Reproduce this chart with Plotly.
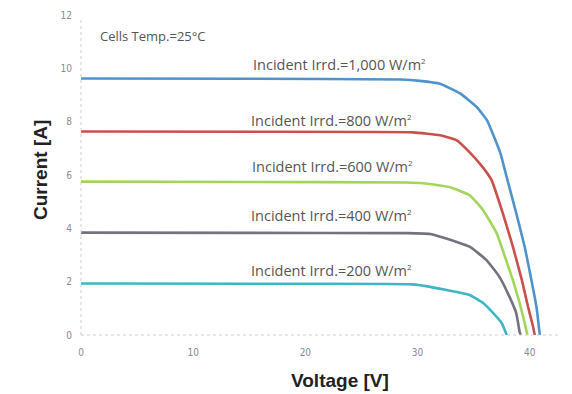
import plotly.graph_objects as go

# ---- data ----
v_1000 = [0, 15, 28.5, 30.2, 32.0, 33.8, 35.3, 36.2, 36.9, 37.4, 37.9, 38.8, 39.55, 40.15, 40.6, 40.9]
i_1000 = [9.62, 9.61, 9.58, 9.53, 9.42, 9.06, 8.54, 8.05, 7.35, 6.8, 6.0, 4.57, 3.31, 2.06, 1.06, 0]

v_800 = [0, 15, 29.6, 32.0, 33.5, 34.65, 35.7, 36.6, 37.6, 38.5, 39.3, 39.85, 40.3, 40.45]
i_800 = [7.63, 7.62, 7.6, 7.49, 7.3, 6.85, 6.35, 5.81, 4.57, 3.31, 2.06, 1.06, 0.31, 0]

v_600 = [0, 15, 29, 30.5, 32.9, 34.65, 35.85, 37.05, 37.8, 38.5, 39.1, 39.55, 39.8]
i_600 = [5.75, 5.74, 5.72, 5.69, 5.54, 5.24, 4.68, 3.82, 2.93, 2.06, 1.2, 0.45, 0]

v_400 = [0, 15, 29, 31.1, 33.5, 34.65, 36.15, 37.3, 38.2, 38.8, 39.1, 39.2]
i_400 = [3.84, 3.83, 3.82, 3.79, 3.49, 3.31, 2.81, 2.18, 1.43, 0.82, 0.12, 0]

v_200 = [0, 15, 29.6, 32.6, 34.65, 35.85, 36.75, 37.5, 37.95]
i_200 = [1.93, 1.92, 1.9, 1.69, 1.5, 1.2, 0.82, 0.45, 0]

series_labels = ["Incident Irrd.=1,000 W/m<sup><span style='font-size:8px'>2</span></sup>",
                 "Incident Irrd.=800 W/m<sup><span style='font-size:8px'>2</span></sup>",
                 "Incident Irrd.=600 W/m<sup><span style='font-size:8px'>2</span></sup>",
                 "Incident Irrd.=400 W/m<sup><span style='font-size:8px'>2</span></sup>",
                 "Incident Irrd.=200 W/m<sup><span style='font-size:8px'>2</span></sup>"]
label_x = [15.15, 15.0, 15.05, 14.95, 14.95]
label_y = [10.15, 8.05, 6.33, 4.49, 2.43]

x_ticks = [0, 10, 20, 30, 40]
y_ticks = [0, 2, 4, 6, 8, 10, 12]

colors = ["#5093cc", "#c9504b", "#a2d55a", "#76717f", "#3fb6c6"]

series = [(v_1000, i_1000), (v_800, i_800), (v_600, i_600), (v_400, i_400), (v_200, i_200)]

fig = go.Figure()
for (v, i), c in zip(series, colors):
    fig.add_trace(go.Scatter(x=v, y=i, mode="lines",
                             line=dict(color=c, width=2.6, shape="spline", smoothing=0.35),
                             showlegend=False, hoverinfo="skip"))

ann_font = dict(family="Open Sans, sans-serif", size=14.5, color="#555555")
annotations = []
for t, x, y in zip(series_labels, label_x, label_y):
    annotations.append(dict(text=t, x=x, y=y, xref="x", yref="y", xanchor="left",
                            yanchor="middle", showarrow=False, font=ann_font))
annotations.append(dict(text="Cells Temp.=25\u00b0C", x=1.5, y=11.2, xref="x", yref="y",
                        xanchor="left", yanchor="middle", showarrow=False,
                        font=dict(family="Open Sans, sans-serif", size=13, color="#555555")))

title_font = dict(family="Liberation Sans, Arial, sans-serif", size=19, color="#222222")
# axis titles placed as annotations (pixel-tuned positions)
annotations.append(dict(text="<b>Voltage [V]</b>", x=340, y=394 - 380, xref="paper", yref="paper",
                        showarrow=False, font=title_font, xanchor="center", yanchor="middle"))
annotations.append(dict(text="<b>Current [A]</b>", textangle=-90, x=40, y=394 - 170,
                        xref="paper", yref="paper", showarrow=False, font=title_font,
                        xanchor="center", yanchor="middle"))

L, R, T, B = 81, 12, 15, 59
PW, PH = 572 - L - R, 394 - T - B
for a in annotations[-2:]:
    a["x"] = (a["x"] - L) / PW
    a["y"] = (a["y"] - B) / PH

# light dashed axis lines
shapes = [
    dict(type="line", xref="paper", yref="paper", x0=0, x1=0, y0=0, y1=0.985,
         line=dict(color="#cfcfcf", width=1, dash="dot")),
    dict(type="line", xref="paper", yref="paper", x0=0, x1=1, y0=0, y1=0,
         line=dict(color="#cfcfcf", width=1, dash="dot")),
]

tick_font = dict(family="DejaVu Sans Condensed, Liberation Sans Narrow, sans-serif", size=10, color="#8a8a8a")

fig.update_layout(
    width=572, height=394,
    margin=dict(l=L, r=R, t=T, b=B),
    plot_bgcolor="white", paper_bgcolor="white",
    annotations=annotations,
    shapes=shapes,
    xaxis=dict(range=[0, 42.7], tickvals=x_ticks, showgrid=False, zeroline=False,
               showline=False, ticks="", ticklabelstandoff=10, automargin=False,
               tickfont=tick_font),
    yaxis=dict(range=[0, 12], tickvals=y_ticks, showgrid=False, zeroline=False,
               showline=False, ticks="", ticklabelstandoff=8, automargin=False,
               tickfont=tick_font),
)

fig.write_html("out.html", config={"displayModeBar": False},
               post_script="document.body.style.margin='0';")
